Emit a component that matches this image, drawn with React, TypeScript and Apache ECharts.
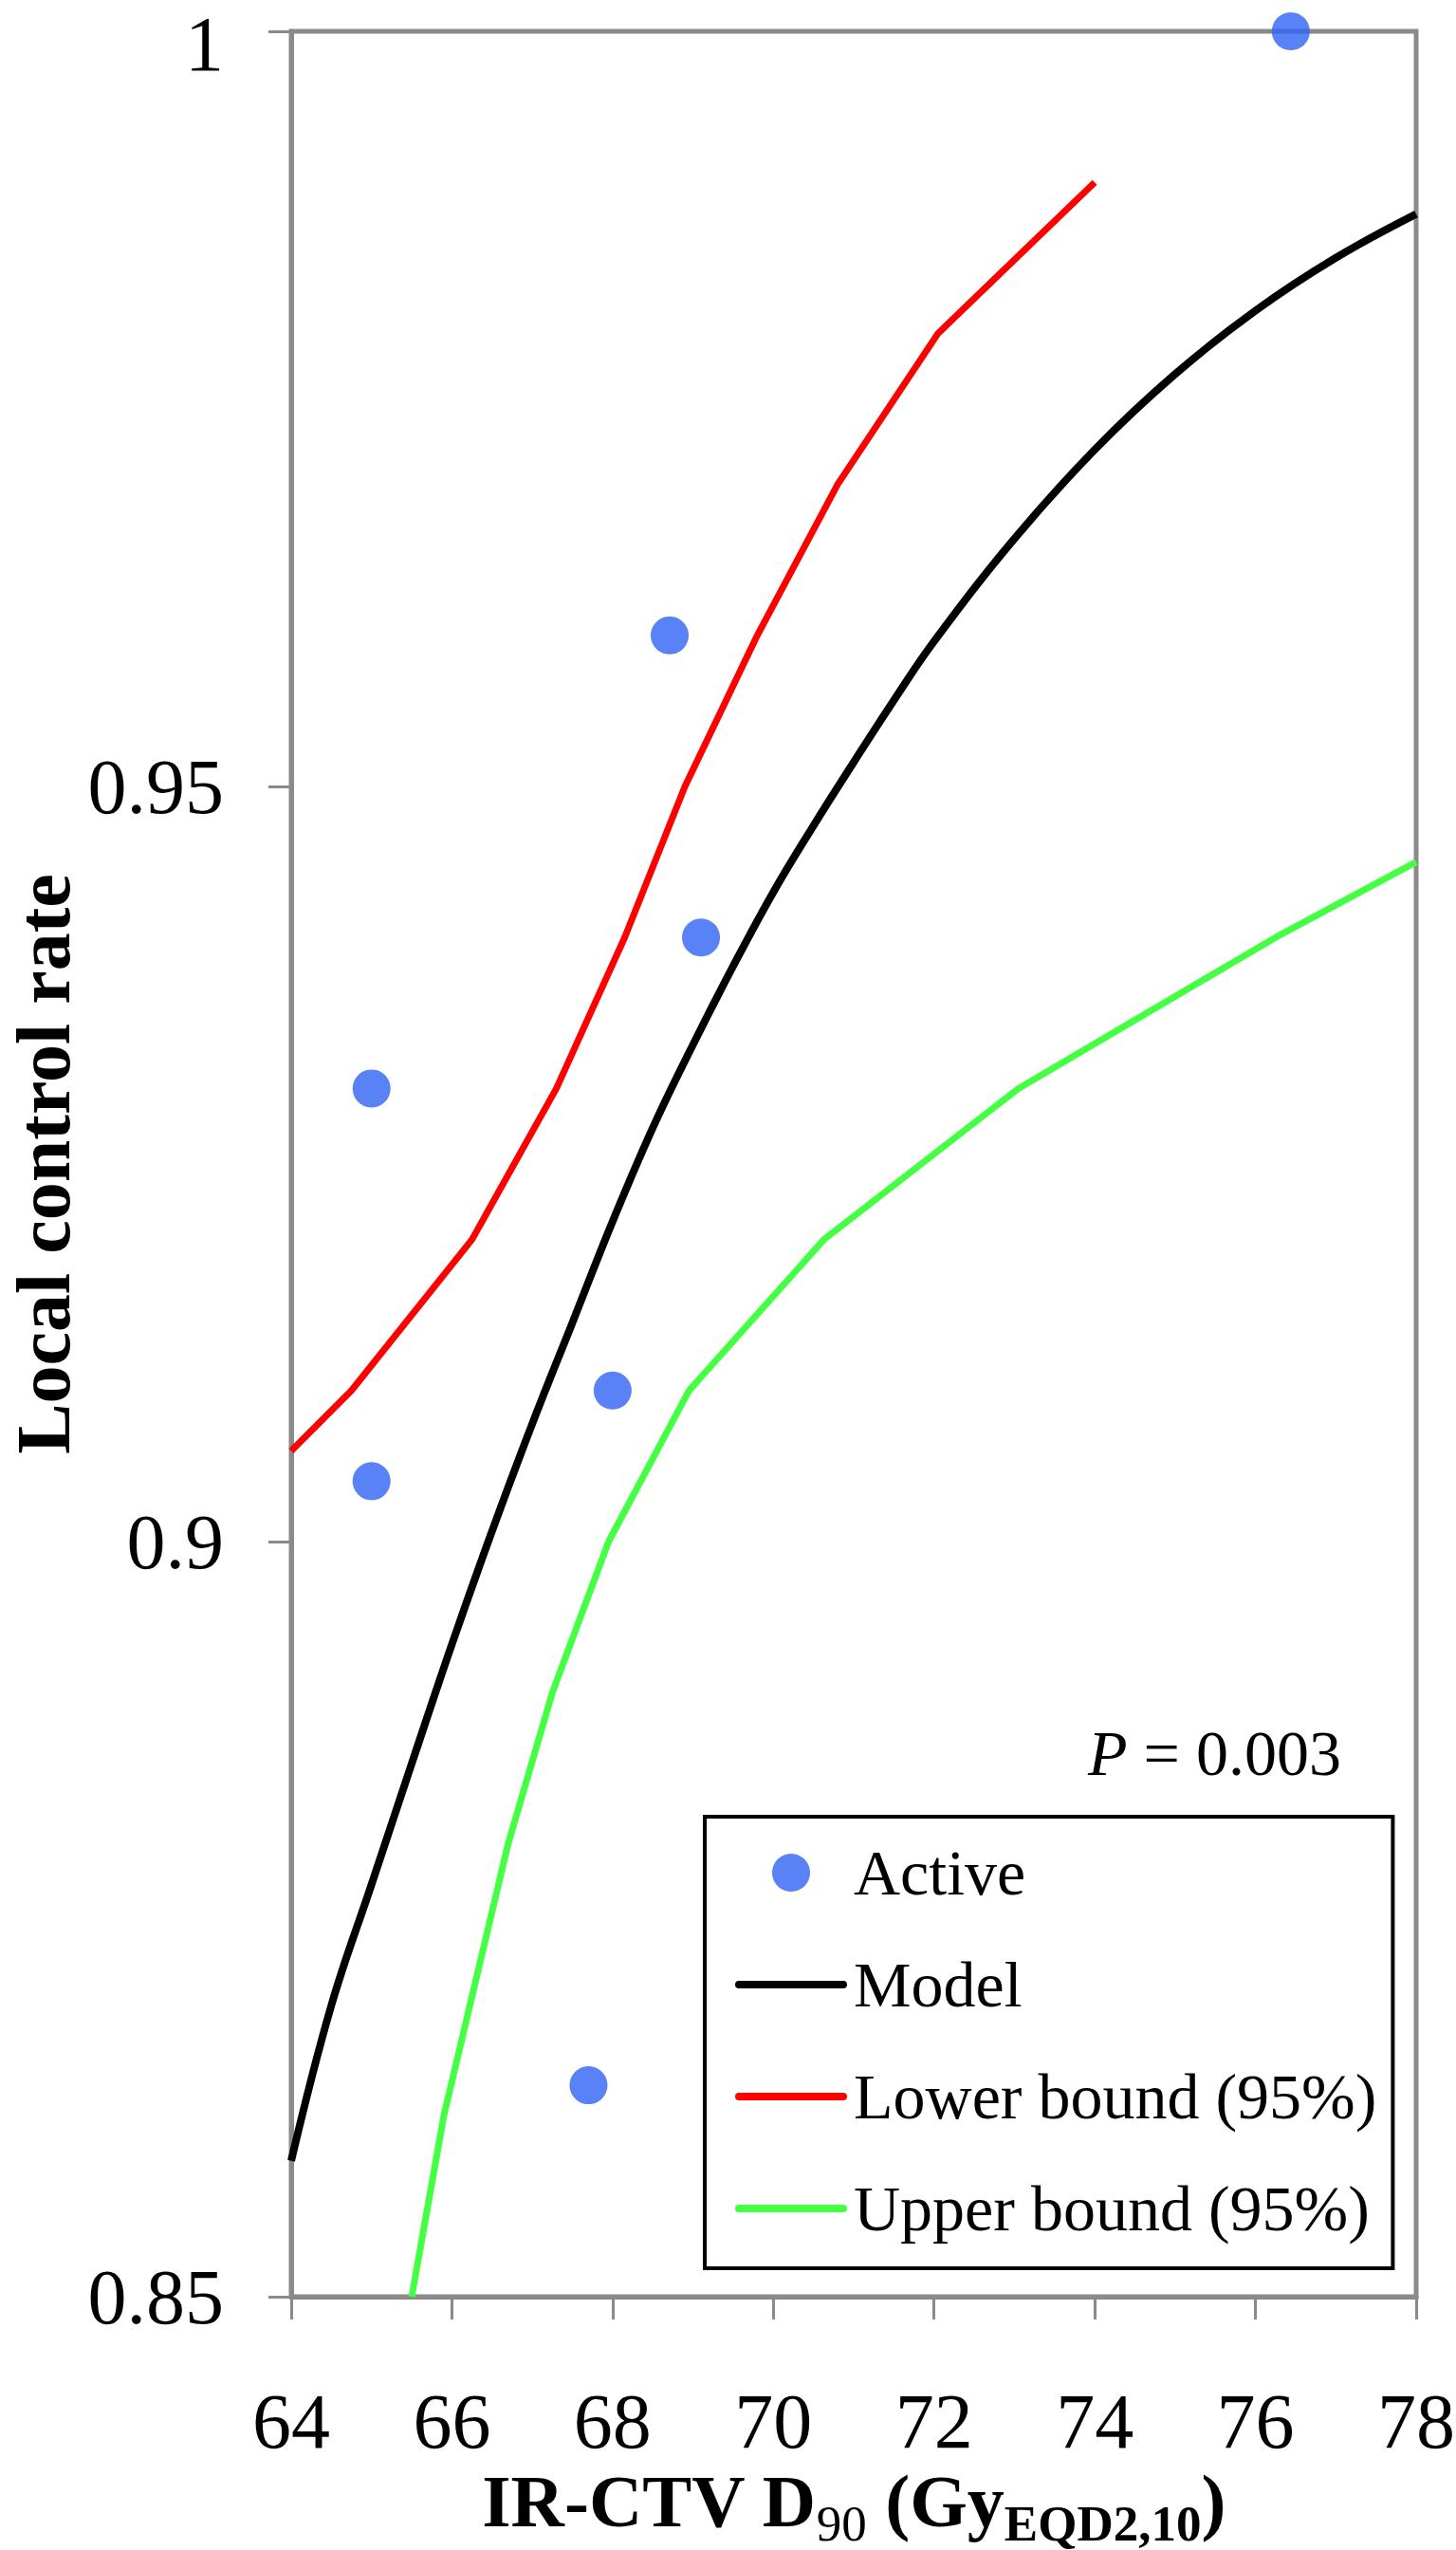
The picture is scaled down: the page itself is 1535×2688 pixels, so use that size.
import React, { useEffect, useRef } from "react";
import * as echarts from "echarts";

const FONT = "'Liberation Serif', 'Times New Roman', serif";

const xTicks = [64, 66, 68, 70, 72, 74, 76, 78];
const yTicks = [0.85, 0.9, 0.95, 1];
const yTickLabels = ["0.85", "0.9", "0.95", "1"];

const seriesNames = ["Active", "Model", "Lower bound (95%)", "Upper bound (95%)"];

const activeX = [76.44, 68.71, 69.1, 65.0, 65.0, 68.0, 67.7];
const activeY = [1.0, 0.96, 0.94, 0.93, 0.904, 0.91, 0.864];

const modelX = [64, 64.5, 65, 65.5, 66, 66.5, 67, 67.5, 68, 68.5, 69, 69.5, 70, 70.5, 71, 71.5, 72, 73, 74, 75, 76, 77, 78];
const modelY = [0.859, 0.8693, 0.8773, 0.8853, 0.8932, 0.9007, 0.9078, 0.9145, 0.9212, 0.9274, 0.9329, 0.9381, 0.943, 0.9474, 0.9516, 0.9557, 0.9596, 0.9664, 0.9723, 0.9773, 0.9815, 0.985, 0.9879];

const lowerX = [64, 64.75, 66.25, 67.3, 68.15, 68.9, 69.8, 70.8, 72.05, 74];
const lowerY = [0.906, 0.91, 0.92, 0.93, 0.94, 0.95, 0.96, 0.97, 0.98, 0.99];

const upperX = [65.5, 65.9, 66.3, 66.7, 67.25, 67.95, 68.95, 70.63, 73.05, 76.25, 78];
const upperY = [0.85, 0.862, 0.871, 0.88, 0.89, 0.9, 0.91, 0.92, 0.93, 0.94, 0.945];

const pValueText = "{i|P}{n| = 0.003}";
const yTitle = "Local control rate";

const pairs = (xs: number[], ys: number[]) => xs.map((x, i) => [x, ys[i]]);

const AXIS_GREY = "#8a8a8a";
const LINE_ICON = "path://M4,0H114A4,4 0 0 1 114,8H4A4,4 0 0 1 4,0Z";

export default function App() {
  const ref = useRef<HTMLDivElement>(null);

  useEffect(() => {
    document.body.style.margin = "0";
    if (!ref.current) return;
    const chart = echarts.init(ref.current, undefined, { renderer: "svg" });
    const option: any = {
      animation: false,
      backgroundColor: "#ffffff",
      grid: {
        left: 307,
        right: 42,
        top: 33,
        bottom: 267,
        show: true,
        borderColor: AXIS_GREY,
        borderWidth: 5,
        containLabel: false,
        outerBoundsMode: "none",
      },
      xAxis: {
        type: "value",
        min: xTicks[0],
        max: xTicks[xTicks.length - 1],
        interval: 2,
        axisLine: { show: true, lineStyle: { color: AXIS_GREY, width: 5 } },
        axisTick: { show: true, length: 24, lineStyle: { color: AXIS_GREY, width: 3 } },
        splitLine: { show: false },
        axisLabel: {
          margin: 90,
          fontFamily: FONT,
          fontSize: 82,
          color: "#000",
        },
        name: "{b|IR-CTV D}{s|90}{b| (Gy}{e|EQD2,10}{b|)}",
        nameLocation: "middle",
        nameGap: 143,
        nameTextStyle: {
          fontFamily: FONT,
          color: "#000",
          rich: {
            b: { fontFamily: FONT, fontSize: 78, fontWeight: "bold", color: "#000", lineHeight: 100, verticalAlign: "middle" },
            s: { fontFamily: FONT, fontSize: 53, fontWeight: "normal", color: "#000", lineHeight: 52, verticalAlign: "bottom" },
            e: { fontFamily: FONT, fontSize: 53, fontWeight: "bold", color: "#000", lineHeight: 52, verticalAlign: "bottom" },
          },
        },
      },
      yAxis: {
        type: "value",
        min: yTicks[0],
        max: yTicks[yTicks.length - 1],
        interval: 0.05,
        axisLine: { show: true, lineStyle: { color: AXIS_GREY, width: 5 } },
        axisTick: { show: true, length: 24, lineStyle: { color: AXIS_GREY, width: 3 } },
        splitLine: { show: false },
        axisLabel: {
          margin: 71,
          fontFamily: FONT,
          fontSize: 82,
          lineHeight: 60,
          color: "#000",
          formatter: (v: number) => {
            const i = yTicks.findIndex((t) => Math.abs(t - v) < 1e-6);
            if (i < 0) return "";
            return i === yTicks.length - 1 ? "{top|" + yTickLabels[i] + "}" : yTickLabels[i];
          },
          rich: {
            top: { fontFamily: FONT, fontSize: 82, lineHeight: 60, color: "#000", padding: [26, 0, 0, 0] },
          },
        },
      },
      legend: {
        orient: "vertical",
        left: 743,
        top: 1915,
        padding: [25, 17, 29, 32],
        itemWidth: 118,
        itemHeight: 40,
        itemGap: 50,
        symbolKeepAspect: true,
        borderColor: "#000",
        borderWidth: 4,
        backgroundColor: "#fff",
        textStyle: { fontFamily: FONT, fontSize: 68, color: "#000", padding: [0, 0, 0, 2] },
        data: [
          { name: seriesNames[0], icon: "circle" },
          { name: seriesNames[1], icon: LINE_ICON },
          { name: seriesNames[2], icon: LINE_ICON },
          { name: seriesNames[3], icon: LINE_ICON },
        ],
      },
      graphic: [
        {
          type: "text",
          x: 1147,
          y: 1848,
          style: {
            text: pValueText,
            align: "left",
            verticalAlign: "middle",
            rich: {
              i: { fontFamily: FONT, fontSize: 68, fontStyle: "italic", fill: "#000" },
              n: { fontFamily: FONT, fontSize: 68, fill: "#000" },
            },
          },
        },
        {
          type: "text",
          x: 46,
          y: 1227,
          rotation: Math.PI / 2,
          style: {
            text: yTitle,
            align: "center",
            verticalAlign: "middle",
            fontFamily: FONT,
            fontSize: 80,
            fontWeight: "bold",
            fill: "#000",
          },
        },
      ],
      series: [
        {
          name: seriesNames[1],
          type: "line",
          data: pairs(modelX, modelY),
          symbol: "none",
          showSymbol: false,
          smooth: 0.4,
          lineStyle: { color: "#000000", width: 8 },
          itemStyle: { color: "#000000" },
          z: 3,
        },
        {
          name: seriesNames[2],
          type: "line",
          data: pairs(lowerX, lowerY),
          symbol: "none",
          showSymbol: false,
          lineStyle: { color: "#ff0000", width: 7 },
          itemStyle: { color: "#ff0000" },
          z: 3,
        },
        {
          name: seriesNames[3],
          type: "line",
          data: pairs(upperX, upperY),
          symbol: "none",
          showSymbol: false,
          lineStyle: { color: "#44ff44", width: 7 },
          itemStyle: { color: "#44ff44" },
          z: 3,
        },
        {
          name: seriesNames[0],
          type: "scatter",
          data: pairs(activeX, activeY),
          symbol: "circle",
          symbolSize: 40,
          clip: false,
          itemStyle: { color: "#2f63f4" },
          z: 4,
        },
      ],
    };
    chart.setOption(option);
    return () => chart.dispose();
  }, []);

  return <div ref={ref} style={{ width: 1535, height: 2688 }} />;
}
